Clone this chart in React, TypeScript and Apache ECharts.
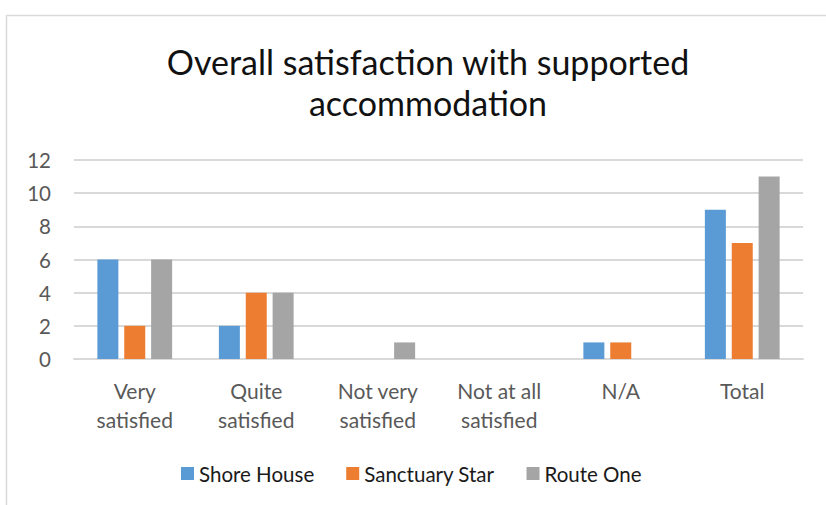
import React, { useEffect, useRef } from "react";
import * as echarts from "echarts";

const categories = ["Very\nsatisfied", "Quite\nsatisfied", "Not very\nsatisfied", "Not at all\nsatisfied", "N/A", "Total"];
const shoreHouse = [6, 2, 0, 0, 1, 9];
const sanctuaryStar = [2, 4, 0, 0, 1, 7];
const routeOne = [6, 4, 1, 0, 0, 11];
const seriesNames = ["Shore House", "Sanctuary Star", "Route One"];
const colors = ["#5b9bd5", "#ed7d31", "#a5a5a5"];
const titleText = "Overall satisfaction with supported\naccommodation";

const FONT = "Lato, 'Open Sans', sans-serif";

export default function App() {
  const ref = useRef<HTMLDivElement>(null);
  useEffect(() => {
    if (!ref.current) return;
    const chart = echarts.init(ref.current, undefined, { renderer: "svg" });
    const data = [shoreHouse, sanctuaryStar, routeOne];
    chart.setOption({
      animation: false,
      backgroundColor: "#ffffff",
      color: colors,
      textStyle: { fontFamily: FONT },
      title: {
        text: titleText,
        left: 423,
        top: 36,
        textAlign: "center",
        textStyle: { fontFamily: FONT, fontSize: 34, fontWeight: "normal", color: "#111111", lineHeight: 41 },
      },
      graphic: [
        {
          type: "polyline",
          shape: { points: [[6.5, 520], [6.5, 15.5], [830, 15.5]] },
          style: { stroke: "#d9d9d9", lineWidth: 1.5, fill: "none" },
          silent: true,
        },
      ],
      legend: {
        bottom: 16,
        left: 176,
        itemWidth: 13,
        itemHeight: 13,
        itemGap: 32,
        icon: "rect",
        textStyle: { fontFamily: FONT, fontSize: 20.5, color: "#1a1a1a" },
        data: seriesNames,
      },
      grid: { left: 74, right: 23, top: 160, bottom: 146, containLabel: false },
      xAxis: {
        type: "category",
        data: categories,
        axisLine: { lineStyle: { color: "#d9d9d9", width: 2 } },
        axisTick: { show: false },
        axisLabel: { fontFamily: FONT, fontSize: 21, color: "#595959", lineHeight: 29, margin: 17, interval: 0 },
      },
      yAxis: {
        type: "value",
        min: 0,
        max: 12,
        interval: 2,
        axisLine: { show: false },
        axisTick: { show: false },
        splitLine: { lineStyle: { color: "#d9d9d9", width: 2 } },
        axisLabel: { fontFamily: FONT, fontSize: 20.5, color: "#595959", margin: 23 },
      },
      series: seriesNames.map((name, i) => ({
        name,
        type: "bar",
        data: data[i],
        barWidth: 21,
        barGap: "28%",
        itemStyle: { color: colors[i] },
      })),
    });
    return () => chart.dispose();
  }, []);
  return <div ref={ref} style={{ width: 826, height: 505, position: "absolute", left: 0, top: 0 }} />;
}
